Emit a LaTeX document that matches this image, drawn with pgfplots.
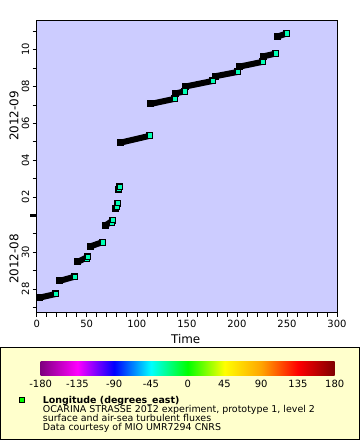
\documentclass[border=0pt]{standalone}
\usepackage{pgfplots}
\pgfplotsset{compat=1.18}
\usepackage{fontspec}
\setmainfont{DejaVu Sans}
\definecolor{plotbg}{RGB}{204,204,255}
\definecolor{legbg}{RGB}{255,255,204}
\definecolor{mk}{RGB}{0,255,180}
\definecolor{legsq}{RGB}{0,255,0}
\definecolor{c1}{RGB}{128,0,128}
\definecolor{c2}{RGB}{255,0,255}
\definecolor{c3}{RGB}{0,0,255}
\definecolor{c4}{RGB}{0,255,255}
\definecolor{c5}{RGB}{0,255,0}
\definecolor{c6}{RGB}{255,255,0}
\definecolor{c7}{RGB}{255,165,0}
\definecolor{c8}{RGB}{255,0,0}
\definecolor{c9}{RGB}{128,0,0}
\pgfdeclarehorizontalshading{rainbow}{100bp}{color(0bp)=(c1); color(25bp)=(c1); color(31.25bp)=(c2); color(37.5bp)=(c3); color(43.75bp)=(c4); color(50bp)=(c5); color(56.25bp)=(c6); color(62.5bp)=(c7); color(68.75bp)=(c8); color(75bp)=(c9); color(100bp)=(c9)}
\begin{document}
\begin{tikzpicture}
\path[use as bounding box] (-36.7bp,-127.5bp) rectangle (323.3bp,312.5bp);
\begin{axis}[
 at={(0,0)}, anchor=south west,
 scale only axis, width=300.3bp, height=291.8bp,
 xmin=0, xmax=300, ymin=-1.277, ymax=14.57,
 axis background/.style={fill=plotbg},
 axis line style={line width=0.8bp},
 tick align=outside, xtick pos=bottom, ytick pos=left,
 xtick={0,50,...,300}, minor x tick num=4,
 ytick={0,2,5,7,9,11,13}, yticklabels={28,30,02,04,06,08,10},
 minor ytick={-1,1,3,6,8,10,12,14},
 extra y ticks={4}, extra y tick labels={},
 extra y tick style={major tick length=6.5bp, major tick style={line width=3bp}},
 major tick length=4bp, minor tick length=4bp,
 tick style={black, line width=0.6bp},
 tick label style={font=\fontsize{10}{12}\selectfont},
 /pgf/number format/assume math mode=true,
 yticklabel style={rotate=90, anchor=south},
 unbounded coords=jump,
]
\addplot[black, line width=6bp, line cap=butt, mark=square*, mark size=3bp, mark options={solid, fill=black, draw=black, line width=0pt}] coordinates {
(3,-0.47) (19,-0.27) (nan,nan)
(23,0.44) (38,0.67) (nan,nan)
(41,1.47) (51,1.74) (nan,nan)
(54,2.32) (66,2.55) (nan,nan)
(69,3.46) (76,3.72) (nan,nan)
(79,4.38) (81,4.62) (nan,nan)
(82,5.40) (83,5.56) (nan,nan)
(84,7.95) (113,8.32) (nan,nan)
(114,10.05) (138,10.33) (nan,nan)
(139,10.62) (148,10.74) (nan,nan)
(149,11.0) (176,11.30) (nan,nan)
(179,11.56) (201,11.79) (nan,nan)
(203,12.08) (226,12.34) (nan,nan)
(227,12.64) (239,12.79) (nan,nan)
(241,13.72) (250,13.88)
};
\addplot[only marks, mark=square*, mark size=2.8bp, mark options={fill=mk, draw=black, line width=0.6bp}] coordinates {
(19,-0.26) (38,0.67) (50,1.65) (51,1.74) (66,2.55) (75,3.63) (76,3.75)
(80,4.46) (81,4.67) (82,5.43) (83,5.56) (113,8.33) (138,10.33) (148,10.74)
(176,11.30) (201,11.79) (226,12.34) (239,12.79) (250,13.88)
};
\end{axis}
\node[rotate=90, font=\fontsize{12}{14}\selectfont] at (-22.7bp,53.5bp) {2012-08};
\node[rotate=90, font=\fontsize{12}{14}\selectfont] at (-22.7bp,196.5bp) {2012-09};
\node[font=\fontsize{12}{14}\selectfont] at (149bp,-26.5bp) {Time};
\draw[fill=legbg, line width=1bp] (-36.2bp,-34.5bp) rectangle (322.3bp,-126.8bp);
\shade[shading=rainbow] (4bp,-48.5bp) rectangle (298bp,-62.8bp);
\foreach \v/\p in {-180/0,-135/1,-90/2,-45/3,0/4,45/5,90/6,135/7,180/8}{
  \pgfmathsetmacro{\xx}{4+\p*36.75}
  \node[font=\fontsize{10}{12}\selectfont] at (\xx bp,-71.5bp) {\v};
}
\draw[fill=legsq, line width=0.8bp] (-17.2bp,-89.8bp) rectangle (-12.2bp,-84.8bp);
\node[anchor=base west, inner sep=0pt, font=\fontsize{9.5}{11}\selectfont\bfseries] at (6bp,-90.5bp) {Longitude (degrees\_east)};
\node[anchor=base west, inner sep=0pt, font=\fontsize{9.5}{11}\selectfont] at (6bp,-100bp) {OCARINA STRASSE 2012 experiment, prototype 1, level 2};
\node[anchor=base west, inner sep=0pt, font=\fontsize{9.5}{11}\selectfont] at (6bp,-109bp) {surface and air-sea turbulent fluxes};
\node[anchor=base west, inner sep=0pt, font=\fontsize{9.5}{11}\selectfont] at (6bp,-118bp) {Data courtesy of MIO UMR7294 CNRS};
\end{tikzpicture}
\end{document}
